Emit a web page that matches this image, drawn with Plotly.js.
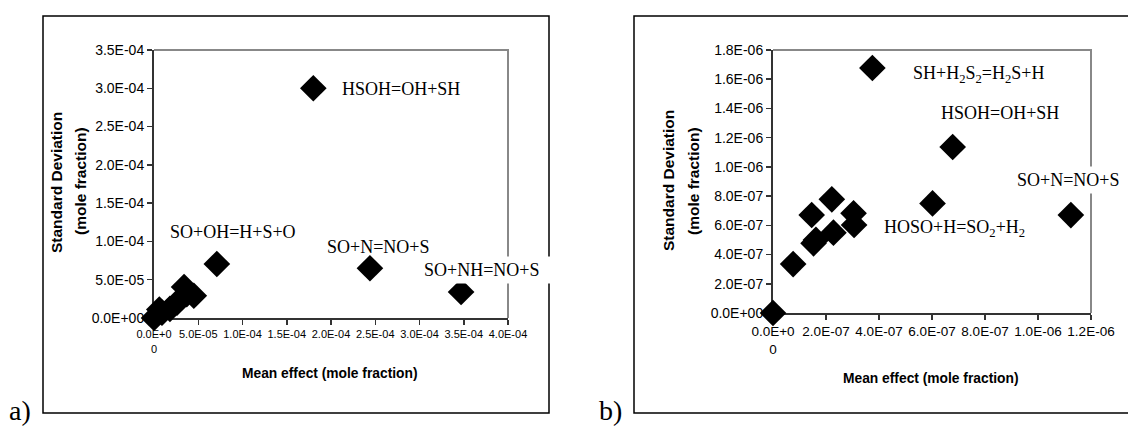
<!DOCTYPE html>
<html>
<head>
<meta charset="utf-8">
<script src="https://cdn.plot.ly/plotly-3.0.1.min.js"></script>
<style>html,body{margin:0;padding:0;background:#fff;}#chart{width:1128px;height:426px;}</style>
</head>
<body>
<div id="chart"></div>
<script>
// Panel a data
var aMean = [0, 9e-6, 6e-6, 1.8e-5, 2.6e-5, 3.4e-5, 3.7e-5, 4.5e-5, 7.1e-5, 1.8e-4, 2.44e-4, 3.47e-4];
var aStd  = [0, 7e-6, 1.1e-5, 1.2e-5, 2.0e-5, 4.05e-5, 3.1e-5, 2.9e-5, 7.05e-5, 3.0e-4, 6.5e-5, 3.4e-5];
// Panel b data
var bMean = [0, 7.6e-8, 1.53e-7, 1.62e-7, 1.46e-7, 2.22e-7, 2.28e-7, 3.04e-7, 3.06e-7, 3.75e-7, 6.02e-7, 6.78e-7, 1.124e-6];
var bStd  = [0, 3.35e-7, 4.77e-7, 5.0e-7, 6.71e-7, 7.78e-7, 5.5e-7, 6.82e-7, 6.02e-7, 1.677e-6, 7.5e-7, 1.136e-6, 6.7e-7];

// Tick labels
var aXTickVals = [0, 5e-5, 1e-4, 1.5e-4, 2e-4, 2.5e-4, 3e-4, 3.5e-4, 4e-4];
var aXTickText = ['0.0E+0<br>0', '5.0E-05', '1.0E-04', '1.5E-04', '2.0E-04', '2.5E-04', '3.0E-04', '3.5E-04', '4.0E-04'];
var aYTickVals = [0, 5e-5, 1e-4, 1.5e-4, 2e-4, 2.5e-4, 3e-4, 3.5e-4];
var aYTickText = ['0.0E+00', '5.0E-05', '1.0E-04', '1.5E-04', '2.0E-04', '2.5E-04', '3.0E-04', '3.5E-04'];
var bXTickVals = [0, 2e-7, 4e-7, 6e-7, 8e-7, 1e-6, 1.2e-6];
var bXTickText = ['0.0E+0<br>0', '2.0E-07', '4.0E-07', '6.0E-07', '8.0E-07', '1.0E-06', '1.2E-06'];
var bYTickVals = [0, 2e-7, 4e-7, 6e-7, 8e-7, 1e-6, 1.2e-6, 1.4e-6, 1.6e-6, 1.8e-6];
var bYTickText = ['0.0E+00', '2.0E-07', '4.0E-07', '6.0E-07', '8.0E-07', '1.0E-06', '1.2E-06', '1.4E-06', '1.6E-06', '1.8E-06'];

// Point labels
var aLabels = ['HSOH=OH+SH', 'SO+OH=H+S+O', 'SO+N=NO+S', 'SO+NH=NO+S'];
var aLabelX = [2.10e-4, 1.58e-5, 1.93e-4, 3.0e-4];
var aLabelY = [2.99e-4, 1.123e-4, 9.27e-5, 6.27e-5];
var bLabels = ['SH+H<sub>2</sub>S<sub>2</sub>=H<sub>2</sub>S+H', 'HSOH=OH+SH', 'SO+N=NO+S', 'HOSO+H=SO<sub>2</sub>+H<sub>2</sub>'];
var bLabelX = [5.22e-7, 6.28e-7, 9.05e-7, 4.13e-7];
var bLabelY = [1.629e-6, 1.369e-6, 9.10e-7, 5.75e-7];

var W = 1128, H = 426;
function px(x){ return x / W; }
function py(y){ return 1 - y / H; }

var sans = 'Liberation Sans, Arial, sans-serif';
var serif = 'Liberation Serif, Times New Roman, serif';

var marker = {symbol: 'diamond', size: 20.5, color: '#000', line: {width: 0}};

var traces = [
  {x: aMean, y: aStd, type: 'scatter', mode: 'markers', marker: marker, xaxis: 'x', yaxis: 'y', cliponaxis: false, hoverinfo: 'x+y'},
  {x: bMean, y: bStd, type: 'scatter', mode: 'markers', marker: marker, xaxis: 'x2', yaxis: 'y2', cliponaxis: false, hoverinfo: 'x+y'}
];

function axisBase(){
  return {
    showgrid: false, zeroline: false, showline: true, linecolor: '#333', linewidth: 2,
    ticks: 'outside', ticklen: 5, tickwidth: 1.5, tickcolor: '#333',
    tickmode: 'array', layer: 'below traces', fixedrange: true
  };
}

var xa = Object.assign(axisBase(), {domain: [px(154), px(508)], range: [0, 4e-4], anchor: 'y',
  tickvals: aXTickVals, ticktext: aXTickText, tickfont: {family: sans, size: 11, color: '#000'}});
var ya = Object.assign(axisBase(), {domain: [py(318), py(50)], range: [0, 3.5e-4], anchor: 'x',
  tickvals: aYTickVals, ticktext: aYTickText, tickfont: {family: sans, size: 14, color: '#000'}});
var xb = Object.assign(axisBase(), {domain: [px(773), px(1091)], range: [0, 1.2e-6], anchor: 'y2',
  tickvals: bXTickVals, ticktext: bXTickText, tickfont: {family: sans, size: 13.5, color: '#000'}});
var yb = Object.assign(axisBase(), {domain: [py(313), py(50)], range: [0, 1.8e-6], anchor: 'x2',
  tickvals: bYTickVals, ticktext: bYTickText, tickfont: {family: sans, size: 14, color: '#000'}});

var shapes = [
  // outer frames
  {type: 'rect', xref: 'paper', yref: 'paper', x0: px(43), x1: px(549), y0: py(413), y1: py(16), line: {color: '#000', width: 1.5}, layer: 'below'},
  {type: 'rect', xref: 'paper', yref: 'paper', x0: px(634), x1: px(1140), y0: py(413), y1: py(16), line: {color: '#000', width: 1.5}, layer: 'below'},
  // plot area borders (top & right) in grey
  {type: 'path', xref: 'x domain', yref: 'y domain', path: 'M0,1 L1,1 L1,0', line: {color: '#888', width: 2}, layer: 'below'},
  {type: 'path', xref: 'x2 domain', yref: 'y2 domain', path: 'M0,1 L1,1 L1,0', line: {color: '#888', width: 2}, layer: 'below'}
];

var annotations = [];
function lab(text, x, y, xr, yr, extra){
  var a = {text: text, x: x, y: y, xref: xr, yref: yr, xanchor: 'left', yanchor: 'middle', showarrow: false,
    font: {family: serif, size: 18, color: '#000'}};
  return Object.assign(a, extra || {});
}
for (var i = 0; i < aLabels.length; i++) {
  var ex = null;
  if (i === 3) ex = {bgcolor: '#fff', width: 130, align: 'left', borderpad: 3};
  annotations.push(lab(aLabels[i], aLabelX[i], aLabelY[i], 'x', 'y', ex));
}
for (var j = 0; j < bLabels.length; j++) {
  var ex2 = null;
  if (j === 2) ex2 = {bgcolor: '#fff', borderpad: 3};
  annotations.push(lab(bLabels[j], bLabelX[j], bLabelY[j], 'x2', 'y2', ex2));
}

function titleAnn(text, x, y, rot, size){
  return {text: '<b>' + text + '</b>', x: px(x), y: py(y), xref: 'paper', yref: 'paper', xanchor: 'center', yanchor: 'middle',
    showarrow: false, textangle: rot, font: {family: sans, size: size, color: '#000'}};
}
annotations.push(titleAnn('Mean effect (mole fraction)', 330, 373, 0, 13.8));
annotations.push(titleAnn('Mean effect (mole fraction)', 931, 378, 0, 13.8));
annotations.push(titleAnn('Standard Deviation', 57, 182, -90, 15.5));
annotations.push(titleAnn('(mole fraction)', 80, 181, -90, 15.5));
annotations.push(titleAnn('Standard Deviation', 668, 181, -90, 15.5));
annotations.push(titleAnn('(mole fraction)', 693, 181, -90, 15.5));
annotations.push({text: 'a)', x: px(20), y: py(410), xref: 'paper', yref: 'paper', xanchor: 'center', yanchor: 'middle', showarrow: false, font: {family: serif, size: 28, color: '#000'}});
annotations.push({text: 'b)', x: px(610), y: py(410), xref: 'paper', yref: 'paper', xanchor: 'center', yanchor: 'middle', showarrow: false, font: {family: serif, size: 28, color: '#000'}});

var layout = {
  width: W, height: H, margin: {l: 0, r: 0, t: 0, b: 0},
  paper_bgcolor: '#fff', plot_bgcolor: '#fff', showlegend: false,
  xaxis: xa, yaxis: ya, xaxis2: xb, yaxis2: yb,
  shapes: shapes, annotations: annotations
};

Plotly.newPlot('chart', traces, layout, {displayModeBar: false, staticPlot: true});
</script>
</body>
</html>
